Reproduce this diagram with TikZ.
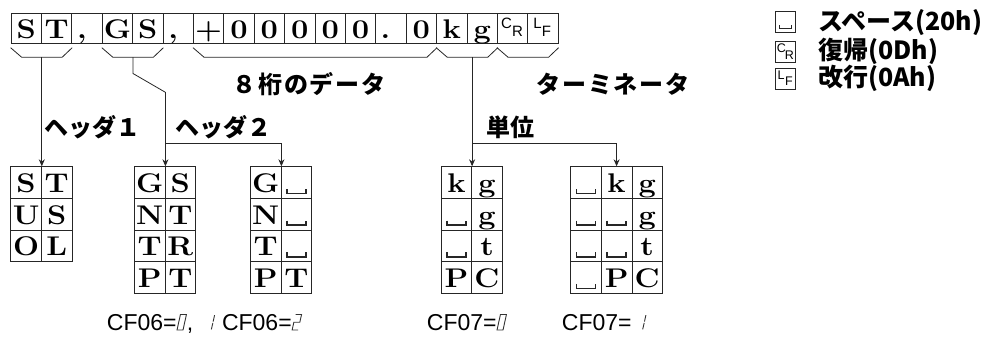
\documentclass[tikz,border=0pt]{standalone}
\usepackage{fontspec}
\usetikzlibrary{arrows.meta}
\newfontfamily\jp{Noto Sans CJK JP}
\newfontfamily\jpw{Noto Sans CJK JP}[LetterSpace=8]
\newfontfamily\lsans{Liberation Sans}
\newfontfamily\wserif{Latin Modern Roman}[FakeStretch=1.14]
\newcommand\spsym{\tikz[baseline=1pt,x=1pt,y=1pt]{\draw[line width=1.6pt,black!85] (-9.5,4.5)--(-9.5,0)--(9.5,0)--(9.5,4.5);}}
\newcommand\segzero{\tikz[baseline=0pt,x=1pt,y=1pt]{\draw[line width=0.9pt,black!80,line join=miter] (0,0)--(6,0)--(9.4,15.5)--(3.4,15.5)--cycle;}}
\newcommand\segone{\tikz[baseline=0pt,x=1pt,y=1pt]{\path (0,0) (9.4,15.5);\draw[line width=0.9pt,black!80] (6.1,0.6)--(7.6,7.1) (7.9,8.4)--(9.3,14.9);}}
\newcommand\segtwo{\tikz[baseline=0pt,x=1pt,y=1pt]{\draw[line width=0.9pt,black!80,line join=miter] (3.4,15.5)--(9.4,15.5)--(7.7,7.75)--(1.7,7.75)--(0,0)--(6,0);}}
\newcommand\mybrk[2]{\draw[conn] ([yshift=-4pt]#1.south west) -- ++(11,9.5) -- ([shift={(-10pt,-13.5pt)}]#2.south east) -- ([yshift=-4pt]#2.south east);}
\begin{document}
\begin{tikzpicture}[x=1pt,y=-1pt,
  cell/.style={draw=black!85, line width=0.8pt, minimum width=30.4pt, minimum height=30pt, inner sep=0pt, text height=22pt, text depth=2pt, font=\wserif\bfseries\fontsize{27}{27}\selectfont},
  tcell/.style={cell, minimum width=30.6pt, minimum height=31.65pt},
  conn/.style={draw=black!85, line width=0.8pt},
  arr/.style={conn, -{Stealth[length=7pt,width=6pt]}},
  jlab/.style={font=\jp\bfseries\fontsize{24}{24}\selectfont, inner sep=0pt},
  jlabw/.style={font=\jpw\bfseries\fontsize{24}{24}\selectfont, inner sep=0pt},
  ltext/.style={font=\jp\bfseries\fontsize{25}{25}\selectfont, inner sep=0pt, anchor=west},
  lbox/.style={draw=black!85, line width=0.8pt, minimum width=20pt, minimum height=21pt, inner sep=0pt},
  crs/.style={font=\lsans\fontsize{15}{15}\selectfont, inner sep=0pt},
  crsm/.style={font=\lsans\fontsize{12.5}{12.5}\selectfont, inner sep=0pt},
  cf/.style={font=\lsans\fontsize{23}{23}\selectfont, inner sep=0pt, anchor=base west}
]
\useasboundingbox (0,0) rectangle (996,338);
% top row
\foreach \i/\c in {0/S,1/T,3/G,4/S,6/+,7/0,8/0,9/0,10/0,11/0,13/0,14/k,15/g}
  \node[cell] (t\i) at ({11+30.4*(\i+0.5)},28.3) {\c};
\node[cell] (t2) at ({11+30.4*2.5},28.3) {,\kern10pt};
\node[cell] (t5) at ({11+30.4*5.5},28.3) {,\kern10pt};
\node[cell] (t12) at ({11+30.4*12.5},28.3) {.\kern11pt};
\node[cell] (t16) at ({11+30.4*16.5},28.3) {};
\node[cell] (t17) at ({11+30.4*17.5},28.3) {};
\node[crs, xshift=-6pt, yshift=4.5pt] (t16c) at (t16) {C};
\node[crs, xshift=5pt, yshift=-3.5pt] (t16r) at (t16) {R};
\node[crs, xshift=-5.5pt, yshift=4.5pt] (t17l) at (t17) {L};
\node[crs, xshift=3.5pt, yshift=-3pt] (t17f) at (t17) {F};
% brackets
\mybrk{t0}{t1}
\mybrk{t3}{t4}
\mybrk{t6}{t13}
\mybrk{t14}{t15}
\mybrk{t16}{t17}
% labels
\node[jlabw] (lab8) at (309,84) {８桁のデータ};
\node[jlabw] (labT) at (613,84) {ターミネータ};
\node[jlab] (labH1) at (92.5,127) {ヘッダ１};
\node[jlab] (labH2) at (223,127) {ヘッダ２};
\node[jlab] (labU) at (510,127) {単位};
% tables
\foreach \r/\a/\b in {0/S/T,1/U/S,2/O/L} {
  \node[tcell] (A\r a) at (26.1,{166.7+31.65*(\r+0.5)}) {\a};
  \node[tcell] (A\r b) at (56.7,{166.7+31.65*(\r+0.5)}) {\b};
}
\foreach \r/\a/\b in {0/G/S,1/N/T,2/T/R,3/P/T} {
  \node[tcell] (B\r a) at (149.7,{166.7+31.65*(\r+0.5)}) {\a};
  \node[tcell] (B\r b) at (180.3,{166.7+31.65*(\r+0.5)}) {\b};
}
\foreach \r/\a/\b in {0/G/\spsym,1/N/\spsym,2/T/\spsym,3/P/T} {
  \node[tcell] (C\r a) at (265.7,{166.7+31.65*(\r+0.5)}) {\a};
  \node[tcell] (C\r b) at (296.3,{166.7+31.65*(\r+0.5)}) {\b};
}
\foreach \r/\a/\b in {0/k/g,1/\spsym/g,2/\spsym/t,3/P/C} {
  \node[tcell] (D\r a) at (456.4,{166.7+31.65*(\r+0.5)}) {\a};
  \node[tcell] (D\r b) at (487.0,{166.7+31.65*(\r+0.5)}) {\b};
}
\foreach \r/\a/\b/\c in {0/\spsym/k/g,1/\spsym/\spsym/g,2/\spsym/\spsym/t,3/\spsym/P/C} {
  \node[tcell] (E\r a) at (586.0,{166.7+31.65*(\r+0.5)}) {\a};
  \node[tcell] (E\r b) at (616.6,{166.7+31.65*(\r+0.5)}) {\b};
  \node[tcell] (E\r c) at (647.2,{166.7+31.65*(\r+0.5)}) {\c};
}
% connectors
\coordinate (bST) at ([yshift=-13.5pt]t0.south east);
\draw[arr] (bST) -- (bST |- A0a.north);
\coordinate (bGS) at ([yshift=-13.5pt]t3.south east);
\coordinate (gGS) at (B0a.east |- 0,92.3);
\coordinate (jGS) at (B0a.east |- 0,143);
\draw[conn] (bGS) -- ++(0,16.3) -- (gGS);
\draw[arr] (gGS) -- (B0a.north east);
\draw[arr] (jGS) -| (C0a.north east);
\coordinate (bkg) at (D0a.east |- bST);
\coordinate (jkg) at (D0a.east |- 0,143);
\draw[arr] (bkg) -- (D0a.north east);
\draw[arr] (jkg) -| (E0b.north);
% legend
\node[lbox] (l1) at (785,22.3) {};
\node[lbox] (l2) at (785,51.7) {};
\node[lbox] (l3) at (785,78.5) {};
\draw[line width=1.2pt,black!85] (779.5,25) -- (779.5,28.3) -- (791.5,28.3) -- (791.5,25);
\node[crsm, xshift=-3.5pt, yshift=3.5pt] (l2c) at (l2) {C};
\node[crsm, xshift=4.5pt, yshift=-3pt] (l2r) at (l2) {R};
\node[crsm, xshift=-4pt, yshift=3pt] (l3l) at (l3) {L};
\node[crsm, xshift=4pt, yshift=-3pt] (l3f) at (l3) {F};
\node[ltext] (lt1) at (818,22.3) {スペース(20h)};
\node[ltext] (lt2) at (818,51.7) {復帰(0Dh)};
\node[ltext] (lt3) at (818,78.5) {改行(0Ah)};
% bottom captions
\node[cf] (cf1) at (106.7,330) {CF06=\segzero,\hspace{12pt}\segone\hspace{7pt}CF06=\segtwo};
\node[cf] (cf2) at (426.7,330) {CF07=\segzero};
\node[cf] (cf3) at (561.7,330) {CF07=\hspace{5pt}\segone};
\end{tikzpicture}
\end{document}
